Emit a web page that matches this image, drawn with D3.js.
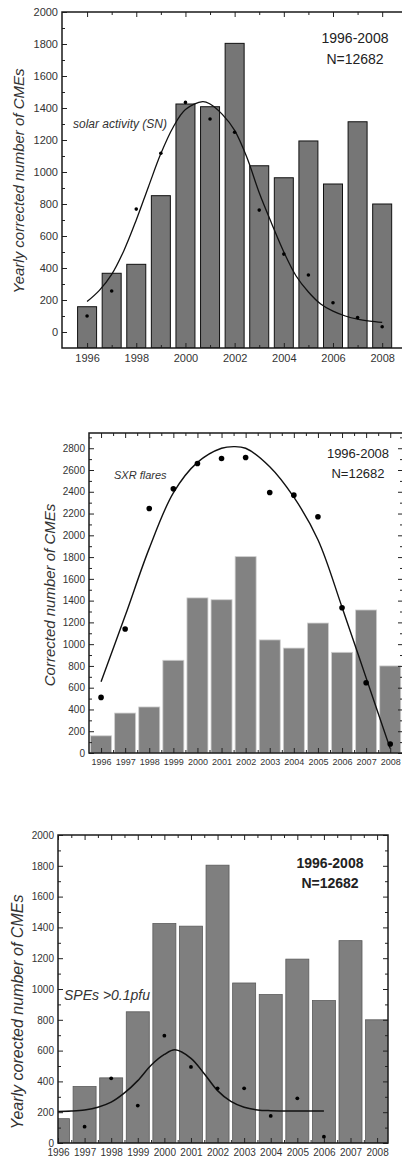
<!DOCTYPE html>
<html>
<head>
<meta charset="utf-8">
<script src="https://cdn.jsdelivr.net/npm/d3@7"></script>
<style>
body { margin: 0; background: #fff; }
svg { display: block; }
</style>
</head>
<body>
<div id="chart"></div>
<script>
// yearly corrected CME counts (same bars in all three panels)
var years = [1996, 1997, 1998, 1999, 2000, 2001, 2002, 2003, 2004, 2005, 2006, 2007, 2008];
var cmeCounts = [158, 367, 423, 852, 1425, 1408, 1804, 1039, 964, 1194, 925, 1314, 800];

// panel 1: sunspot number (scaled) + fit
var snValues = [100, 256, 768, 1117, 1435, 1331, 1248, 762, 487, 356, 183, 90, 33];
var snFitYears = [1996, 1996.5, 1997, 1997.5, 1998, 1998.5, 1999, 1999.5, 2000, 2000.7, 2001, 2001.5, 2002, 2002.5, 2003, 2003.5, 2004, 2004.5, 2005, 2005.5, 2006, 2006.5, 2007, 2007.5, 2008];
var snFitValues = [190, 260, 360, 510, 700, 910, 1115, 1280, 1390, 1440, 1425, 1360, 1260, 1090, 870, 680, 500, 350, 250, 175, 130, 100, 80, 68, 60];

// panel 2: SXR flares + fit
var sxrValues = [511, 1139, 2247, 2427, 2660, 2706, 2715, 2394, 2369, 2170, 1334, 646, 83];
var sxrFitYears = [1996, 1997, 1998, 1999, 2000, 2001, 2001.5, 2002, 2003, 2004, 2005, 2006, 2007, 2008];
var sxrFitValues = [655, 1260, 1880, 2390, 2670, 2800, 2815, 2800, 2630, 2350, 1960, 1340, 690, 40];

// panel 3: SPEs > 0.1 pfu + fit
var speYears = [1997, 1998, 1999, 2000, 2001, 2002, 2003, 2004, 2005, 2006];
var speValues = [106, 420, 243, 697, 494, 355, 355, 176, 290, 41];
var speFitYears = [1996, 1996.5, 1997, 1997.5, 1998, 1998.5, 1999, 1999.5, 2000, 2000.4, 2001, 2001.5, 2002, 2002.5, 2003, 2003.5, 2004, 2005, 2006];
var speFitValues = [205, 208, 215, 232, 265, 325, 405, 505, 575, 605, 550, 450, 340, 270, 232, 215, 210, 208, 208];

var yTicks2000 = [0, 200, 400, 600, 800, 1000, 1200, 1400, 1600, 1800, 2000];
var yTicks2800 = [0, 200, 400, 600, 800, 1000, 1200, 1400, 1600, 1800, 2000, 2200, 2400, 2600, 2800];
var evenYears = [1996, 1998, 2000, 2002, 2004, 2006, 2008];

var W = 402, H = 1162;
var font = "'Liberation Sans', Arial, sans-serif";

var svg = d3.select('#chart').append('svg')
    .attr('width', W)
    .attr('height', H);

function drawPanel(p) {
    var x = d3.scaleLinear().domain(p.xDomain).range([p.left, p.right]);
    var y = d3.scaleLinear().domain(p.yDomain).range([p.bottom, p.top]);
    var g = svg.append('g');

    var clipId = 'clip-' + p.id;
    g.append('clipPath').attr('id', clipId)
        .append('rect')
        .attr('x', p.left).attr('y', p.top)
        .attr('width', p.right - p.left).attr('height', p.bottom - p.top);

    var plot = g.append('g').attr('clip-path', 'url(#' + clipId + ')');

    // bars
    plot.selectAll('rect.bar')
        .data(years)
        .enter().append('rect')
        .attr('class', 'bar')
        .attr('x', function(d) { return x(d) - p.barWidth / 2; })
        .attr('y', function(d, i) { return y(cmeCounts[i]); })
        .attr('width', p.barWidth)
        .attr('height', function(d, i) { return y(p.yDomain[0]) - y(cmeCounts[i]); })
        .attr('fill', p.barFill)
        .attr('stroke', p.barStroke)
        .attr('stroke-width', p.barStrokeWidth);

    // fit curve
    var line = d3.line()
        .x(function(d) { return x(d[0]); })
        .y(function(d) { return y(d[1]); })
        .curve(d3.curveCatmullRom);
    plot.append('path')
        .datum(d3.zip(p.fitX, p.fitY))
        .attr('d', line)
        .attr('fill', 'none')
        .attr('stroke', '#111')
        .attr('stroke-width', p.lineWidth);

    // points
    plot.selectAll('circle.pt')
        .data(d3.zip(p.ptX, p.ptY))
        .enter().append('circle')
        .attr('class', 'pt')
        .attr('cx', function(d) { return x(d[0]); })
        .attr('cy', function(d) { return y(d[1]); })
        .attr('r', p.dotR)
        .attr('fill', '#000');

    // axes (ticks pointing inward)
    var axisCol = '#222';
    function styleAxis(sel, fs) {
        sel.select('.domain').remove();
        sel.selectAll('line').attr('stroke', axisCol).attr('stroke-width', 1);
        sel.selectAll('text').attr('font-family', font).attr('font-size', fs).attr('fill', '#333');
    }

    var yMinor = d3.range(0, p.yMax + 1, 100).filter(function(v) { return v % 200 !== 0 && v <= p.yDomain[1]; });

    g.append('g').attr('transform', 'translate(' + p.left + ',0)')
        .call(d3.axisLeft(y).tickValues(p.yTicks).tickSize(-5).tickPadding(4).tickFormat(d3.format('d')))
        .call(styleAxis, p.tickFont);
    g.append('g').attr('transform', 'translate(' + p.left + ',0)')
        .call(d3.axisLeft(y).tickValues(yMinor).tickSize(-3).tickFormat(''))
        .call(styleAxis, p.tickFont);

    if (p.rightTicks) {
        g.append('g').attr('transform', 'translate(' + p.right + ',0)')
            .call(d3.axisRight(y).tickValues(p.yTicks.filter(function(v) { return v <= p.yDomain[1]; })).tickSize(-5).tickFormat(''))
            .call(styleAxis, p.tickFont);
        g.append('g').attr('transform', 'translate(' + p.right + ',0)')
            .call(d3.axisRight(y).tickValues(yMinor).tickSize(-3).tickFormat(''))
            .call(styleAxis, p.tickFont);
    }

    g.append('g').attr('transform', 'translate(0,' + p.bottom + ')')
        .call(d3.axisBottom(x).tickValues(p.xLabels).tickSize(-5).tickPadding(6).tickFormat(d3.format('d')))
        .call(styleAxis, p.xFont);
    g.append('g').attr('transform', 'translate(0,' + p.bottom + ')')
        .call(d3.axisBottom(x).tickValues(p.xMinor).tickSize(-3).tickFormat(''))
        .call(styleAxis, p.xFont);
    g.append('g').attr('transform', 'translate(0,' + p.top + ')')
        .call(d3.axisTop(x).tickValues(p.xLabels).tickSize(-5).tickFormat(''))
        .call(styleAxis, p.xFont);
    g.append('g').attr('transform', 'translate(0,' + p.top + ')')
        .call(d3.axisTop(x).tickValues(p.xMinor).tickSize(-3).tickFormat(''))
        .call(styleAxis, p.xFont);

    // frame
    g.append('rect')
        .attr('x', p.left).attr('y', p.top)
        .attr('width', p.right - p.left).attr('height', p.bottom - p.top)
        .attr('fill', 'none')
        .attr('stroke', '#1a1a1a')
        .attr('stroke-width', 1.5);

    // y title
    g.append('text')
        .attr('transform', 'translate(' + p.yTitleX + ',' + p.yTitleY + ') rotate(-90)')
        .attr('text-anchor', 'middle')
        .attr('font-family', font)
        .attr('font-style', 'italic')
        .attr('font-size', p.yTitleSize)
        .attr('fill', '#333')
        .text(p.yTitle);

    // period box
    g.append('text')
        .attr('x', p.infoX).attr('y', p.infoY)
        .attr('text-anchor', 'middle')
        .attr('font-family', font)
        .attr('font-size', p.infoSize)
        .attr('font-weight', p.infoWeight)
        .attr('fill', '#222')
        .text('1996-2008');
    g.append('text')
        .attr('x', p.infoX).attr('y', p.infoY + p.infoGap)
        .attr('text-anchor', 'middle')
        .attr('font-family', font)
        .attr('font-size', p.infoSize)
        .attr('font-weight', p.infoWeight)
        .attr('fill', '#222')
        .text('N=12682');

    // series label
    g.append('text')
        .attr('x', p.tagX).attr('y', p.tagY)
        .attr('font-family', font)
        .attr('font-style', 'italic')
        .attr('font-size', p.tagSize)
        .attr('fill', '#333')
        .text(p.tag);
}

// PANEL 1
drawPanel({
    id: 'sn',
    left: 62, right: 408, top: 12, bottom: 348,
    xDomain: [1994.98, 2009.05], yDomain: [-100, 2000], yMax: 2000,
    yTicks: yTicks2000, xLabels: evenYears,
    xMinor: [1997, 1999, 2001, 2003, 2005, 2007],
    barWidth: 19, barFill: '#767676', barStroke: '#111', barStrokeWidth: 1,
    fitX: snFitYears, fitY: snFitValues, ptX: years, ptY: snValues,
    dotR: 1.8, lineWidth: 1.3,
    tickFont: '11px', xFont: '11px', rightTicks: false,
    yTitle: 'Yearly corrected number of CMEs', yTitleX: 24, yTitleY: 181, yTitleSize: '15px',
    infoX: 355, infoY: 43, infoGap: 21, infoSize: '14px', infoWeight: 'normal',
    tag: 'solar activity (SN)', tagX: 73, tagY: 128, tagSize: '12px'
});

// PANEL 2
drawPanel({
    id: 'sxr',
    left: 89, right: 403, top: 433, bottom: 753,
    xDomain: [1995.5, 2008.53], yDomain: [0, 2940], yMax: 2900,
    yTicks: yTicks2800, xLabels: years,
    xMinor: [1996.5, 1997.5, 1998.5, 1999.5, 2000.5, 2001.5, 2002.5, 2003.5, 2004.5, 2005.5, 2006.5, 2007.5],
    barWidth: 21, barFill: '#828282', barStroke: '#cfcfcf', barStrokeWidth: 0.8,
    fitX: sxrFitYears, fitY: sxrFitValues, ptX: years, ptY: sxrValues,
    dotR: 2.8, lineWidth: 1.4,
    tickFont: '10px', xFont: '9px', rightTicks: true,
    yTitle: 'Corrected number of CMEs', yTitleX: 55, yTitleY: 595, yTitleSize: '15px',
    infoX: 358, infoY: 458, infoGap: 20, infoSize: '13px', infoWeight: 'normal',
    tag: 'SXR flares', tagX: 114, tagY: 479, tagSize: '11px'
});

// PANEL 3
drawPanel({
    id: 'spe',
    left: 58, right: 388, top: 835, bottom: 1143,
    xDomain: [1996, 2008.41], yDomain: [0, 2000], yMax: 2000,
    yTicks: yTicks2000, xLabels: years,
    xMinor: [1996.5, 1997.5, 1998.5, 1999.5, 2000.5, 2001.5, 2002.5, 2003.5, 2004.5, 2005.5, 2006.5, 2007.5],
    barWidth: 23, barFill: '#7f7f7f', barStroke: '#5a5a5a', barStrokeWidth: 0.8,
    fitX: speFitYears, fitY: speFitValues, ptX: speYears, ptY: speValues,
    dotR: 1.9, lineWidth: 1.5,
    tickFont: '10px', xFont: '10px', rightTicks: true,
    yTitle: 'Yearly corected number of CMEs', yTitleX: 23, yTitleY: 1012, yTitleSize: '16px',
    infoX: 330, infoY: 868, infoGap: 20, infoSize: '14px', infoWeight: 'bold',
    tag: 'SPEs >0.1pfu', tagX: 64, tagY: 1000, tagSize: '14px'
});
</script>
</body>
</html>
